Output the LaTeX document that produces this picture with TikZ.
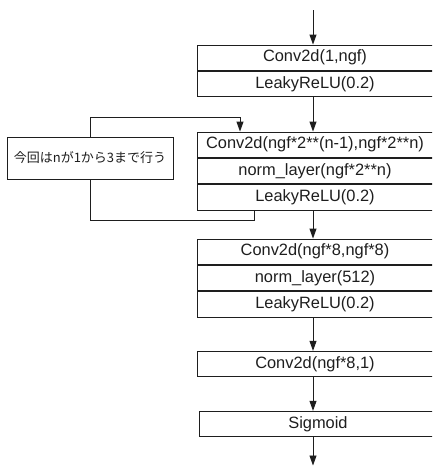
\documentclass[tikz,border=0pt]{standalone}
\usepackage{fontspec}
\setmainfont{Liberation Sans}
\newfontfamily\cjk{Noto Sans CJK JP}
\usetikzlibrary{arrows.meta,positioning}
\definecolor{lc}{HTML}{1E1E1E}
\begin{document}
\begin{tikzpicture}[x=1pt,y=-1pt,
  row/.style={draw=lc, line width=0.9pt, minimum width=236pt, minimum height=25.4pt,
    inner sep=0pt, font=\fontsize{16.4}{18}\selectfont, text=lc},
  arr/.style={draw=lc, line width=0.9pt, -{Triangle[length=10pt,width=7pt]}},
  lnk/.style={draw=lc, line width=0.9pt}]
\useasboundingbox (0,0) rectangle (432,466);
\clip (0,0) rectangle (432,466);

\coordinate (top) at (313,10);
\coordinate (bot) at (313,465.5);

\node[row] (c1a) at (315,57.7) {Conv2d(1,ngf)};
\node[row, below=0pt of c1a] (c1b) {LeakyReLU(0.2)};

\node[row] (c2a) at (315,144.7) {Conv2d(ngf*2**(n-1),ngf*2**n)};
\node[row, below=0pt of c2a] (c2b) {norm\_layer(ngf*2**n)};
\node[row, below=0pt of c2b] (c2c) {LeakyReLU(0.2)};

\node[row] (c3a) at (315,251.7) {Conv2d(ngf*8,ngf*8)};
\node[row, below=0pt of c3a] (c3b) {norm\_layer(512)};
\node[row, below=0pt of c3b] (c3c) {LeakyReLU(0.2)};

\node[row] (c4) at (315,364) {Conv2d(ngf*8,1)};
\node[row, minimum width=238pt] (c5) at (318,424) {Sigmoid};

\node[draw=lc, line width=0.9pt, minimum width=166pt, minimum height=42pt, inner sep=0pt,
  font=\cjk\fontsize{13}{15}\selectfont, text=lc] (note) at (90,158) {今回はnが1から3まで行う};

\draw[arr] (top) -- ([xshift=-2pt]c1a.north);
\draw[arr] ([xshift=-2pt]c1b.south) -- ([xshift=-2pt]c2a.north);
\draw[arr] ([xshift=-2pt]c2c.south) -- ([xshift=-2pt]c3a.north);
\draw[arr] ([xshift=-2pt]c3c.south) -- ([xshift=-2pt]c4.north);
\draw[arr] ([xshift=-2pt]c4.south) -- ([xshift=-5pt]c5.north);
\draw[arr] ([xshift=-5pt]c5.south) -- (bot);

\draw[arr] (note.north) -- ++(0,-19) -| ([xshift=-75pt]c2a.north);
\draw[lnk] (note.south) -- ++(0,41) -| ([xshift=-61pt]c2c.south);
\end{tikzpicture}
\end{document}
